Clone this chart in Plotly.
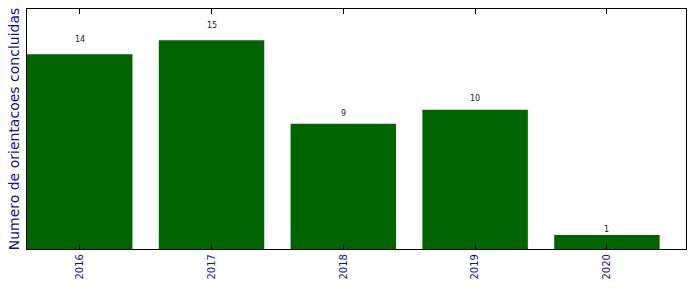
import plotly.graph_objects as go

years = ["2016", "2017", "2018", "2019", "2020"]
counts = [14, 15, 9, 10, 1]

ymax = max(counts) * 1.15

fig = go.Figure()
fig.add_trace(go.Bar(
    x=list(range(len(years))), y=counts,
    width=0.8,
    marker=dict(color="#006400", line=dict(width=0)),
))
for i, c in enumerate(counts):
    fig.add_annotation(x=i, y=c * 1.05, text=str(c), showarrow=False,
                       yanchor="bottom", xanchor="center",
                       font=dict(family="DejaVu Sans", size=8, color="#222222"),
                       yshift=-2)

fig.update_layout(
    width=696, height=292,
    margin=dict(l=27, r=10, t=9, b=43),
    plot_bgcolor="white", paper_bgcolor="white",
    showlegend=False,
    font=dict(family="DejaVu Sans"),
    xaxis=dict(
        range=[-0.4, 4.6],
        tickmode="array", tickvals=list(range(len(years))), ticktext=years,
        tickangle=-90,
        tickfont=dict(size=10, color="#10109c"),
        ticks="inside", ticklen=5, tickcolor="black",
        showline=True, linecolor="black", linewidth=1.2, mirror="ticks",
        showgrid=False, zeroline=False,
    ),
    yaxis=dict(
        range=[0, ymax],
        showticklabels=False, ticks="",
        showline=True, linecolor="black", linewidth=1.2, mirror=True,
        showgrid=False, zeroline=False,
        title=dict(text="Numero de orientacoes concluidas",
                   font=dict(size=14, color="#10109c"), standoff=3),
    ),
)
fig.write_html("out.html")
